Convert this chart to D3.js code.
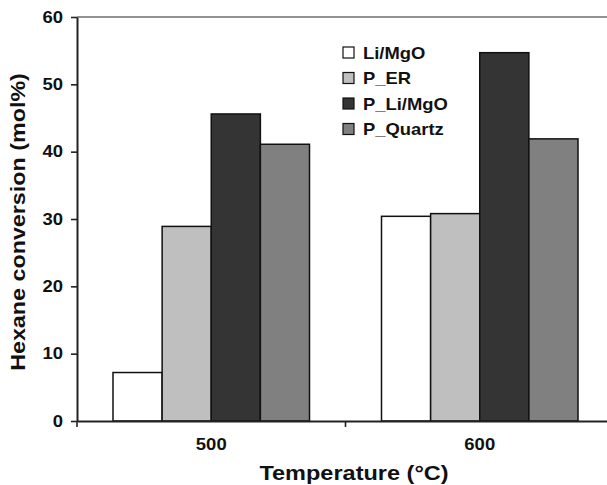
<!DOCTYPE html>
<html>
<head>
<meta charset="utf-8">
<script src="https://cdn.jsdelivr.net/npm/d3@7"></script>
<style>
  html, body { margin: 0; padding: 0; background: #fff; }
  svg { display: block; font-family: "Liberation Sans", Arial, sans-serif; }
</style>
</head>
<body>
<svg id="chart" width="607" height="485"></svg>
<script>
// Reaction temperatures (°C)
const temperatures = ["500", "600"];
// Catalyst series
const series = ["Li/MgO", "P_ER", "P_Li/MgO", "P_Quartz"];
// Hexane conversion (mol%) per series, in temperature order
const liMgO = [7.2, 30.4];
const pER = [28.9, 30.8];
const pLiMgO = [45.6, 54.7];
const pQuartz = [41.1, 41.9];
// Y axis ticks
const yTicks = [0, 10, 20, 30, 40, 50, 60];

const seriesValues = [liMgO, pER, pLiMgO, pQuartz];
const fills = ["#ffffff", "#bfbfbf", "#343434", "#808080"];

const rows = temperatures.map((t, i) => ({
  temp: t,
  values: series.map((s, k) => ({ key: s, value: seriesValues[k][i], fill: fills[k] }))
}));

const svg = d3.select("#chart");
const plotLeft = 77, plotRight = 614, plotTop = 17, plotBottom = 421;
const textWiden = 1.12; // labels are set in a slightly expanded bold face

// Horizontally widen text elements around their own anchor point
function widen(sel, k) {
  sel.each(function () {
    const t = d3.select(this);
    const x0 = +t.attr("x") || 0, y0 = +t.attr("y") || 0;
    t.attr("x", 0).attr("y", 0)
      .attr("transform", `translate(${x0},${y0}) scale(${k},1)`);
  });
}

const x = d3.scaleBand().domain(temperatures).range([plotLeft, plotRight]).paddingInner(0).paddingOuter(0);
const groupPad = 36;
const x1 = d3.scaleBand().domain(series).range([groupPad, x.bandwidth() - groupPad]).padding(0);
const y = d3.scaleLinear().domain([0, 60]).range([plotBottom, plotTop]);

// Top border of the plot area
svg.append("line")
  .attr("x1", plotLeft).attr("x2", plotRight)
  .attr("y1", plotTop).attr("y2", plotTop)
  .attr("stroke", "#6e6e6e").attr("stroke-width", 1.6);

// Bars
svg.append("g").selectAll("g")
  .data(rows)
  .join("g")
  .attr("transform", d => `translate(${x(d.temp)},0)`)
  .selectAll("rect")
  .data(d => d.values)
  .join("rect")
  .attr("x", d => x1(d.key))
  .attr("y", d => y(d.value))
  .attr("width", x1.bandwidth())
  .attr("height", d => y(0) - y(d.value))
  .attr("fill", d => d.fill)
  .attr("stroke", "#111")
  .attr("stroke-width", 1.5);

// Y axis
const yAxis = svg.append("g")
  .attr("transform", `translate(${plotLeft},0)`)
  .call(d3.axisLeft(y).tickValues(yTicks).tickFormat(d3.format("d")).tickSize(6).tickSizeOuter(0).tickPadding(8));
yAxis.select(".domain").attr("stroke", "#222").attr("stroke-width", 2);
yAxis.selectAll(".tick line").attr("stroke", "#222").attr("stroke-width", 1.6);
yAxis.selectAll(".tick text")
  .attr("font-size", 16.5).attr("font-weight", "bold").attr("fill", "#111")
  .attr("font-family", "'Liberation Sans', Arial, sans-serif")
  .call(widen, textWiden);

// X axis
const xAxis = svg.append("g")
  .attr("transform", `translate(0,${plotBottom})`)
  .call(d3.axisBottom(x).tickSize(0).tickSizeOuter(0).tickPadding(17));
xAxis.select(".domain").attr("stroke", "#222").attr("stroke-width", 2);
xAxis.selectAll(".tick text")
  .attr("font-size", 16.5).attr("font-weight", "bold").attr("fill", "#111")
  .attr("font-family", "'Liberation Sans', Arial, sans-serif")
  .call(widen, textWiden);
// Tick marks between temperature groups
const boundaries = temperatures.map(t => x(t)).concat([plotRight]);
xAxis.selectAll(".bound")
  .data(boundaries)
  .join("line")
  .attr("class", "bound")
  .attr("x1", d => d).attr("x2", d => d)
  .attr("y1", 0).attr("y2", 6)
  .attr("stroke", "#222").attr("stroke-width", 1.6);

// Axis titles
svg.append("text")
  .attr("transform", `translate(354,480) scale(${textWiden},1)`)
  .attr("text-anchor", "middle")
  .attr("font-size", 21).attr("font-weight", "bold").attr("fill", "#111")
  .text("Temperature (°C)");

svg.append("text")
  .attr("transform", "translate(25,222) rotate(-90) scale(1.11,1)")
  .attr("text-anchor", "middle")
  .attr("font-size", 21).attr("font-weight", "bold").attr("fill", "#111")
  .text("Hexane conversion (mol%)");

// Legend
const legend = svg.append("g").attr("transform", "translate(343,47)");
const item = legend.selectAll("g")
  .data(series.map((s, k) => ({ key: s, fill: fills[k] })))
  .join("g")
  .attr("transform", (d, i) => `translate(0,${i * 25.5})`);
item.append("rect")
  .attr("width", 11).attr("height", 11)
  .attr("fill", d => d.fill)
  .attr("stroke", "#111").attr("stroke-width", 1.2);
item.append("text")
  .attr("x", 20).attr("y", 11.5)
  .attr("font-size", 16).attr("font-weight", "bold").attr("fill", "#111")
  .text(d => d.key)
  .call(widen, 1.15);
</script>
</body>
</html>
